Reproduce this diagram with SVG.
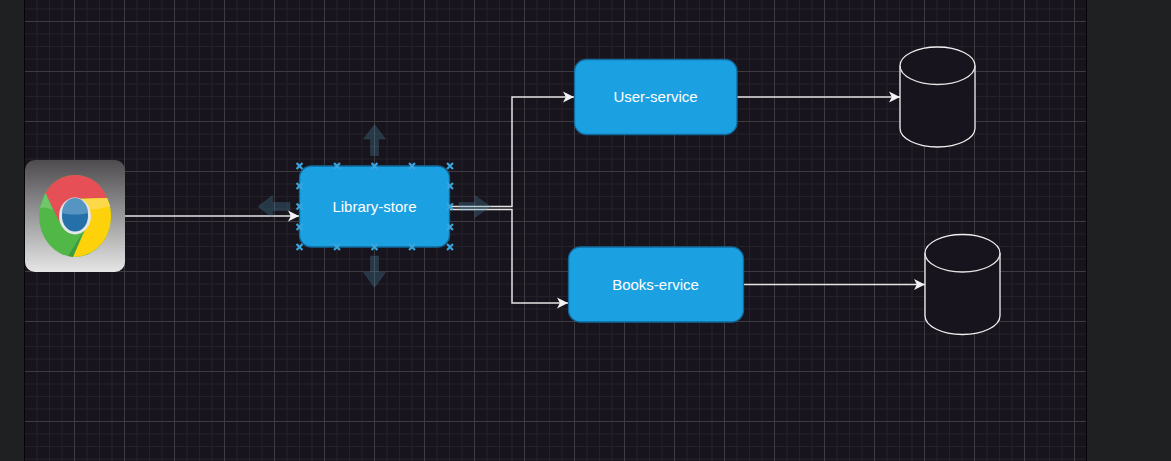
<svg xmlns="http://www.w3.org/2000/svg" width="1171" height="461" viewBox="0 0 1171 461">
<style>
.n{fill:#1ba1e2;stroke:#116a9c;stroke-width:1.3}
.t{font-family:"Liberation Sans",Arial,sans-serif;font-size:15px;fill:#fff;text-anchor:middle}
.c{fill:none;stroke:#e4e4e4;stroke-width:1.5}
.cy{fill:#18141d;stroke:#f0f0f0;stroke-width:1.3}
.h{fill:#4a93b4;fill-opacity:.28;stroke:#5a7a8c;stroke-opacity:.18}
.x{stroke:#3aa5dc;stroke-width:2.2;fill:none;stroke-linecap:square}
</style>
<defs>
<pattern id="grid" x="24" y="21" width="50" height="50" patternUnits="userSpaceOnUse">
<path d="M13 0V50M25.500 0V50M38 0V50M0 13H50M0 25.500H50M0 38H50" fill="none" stroke="#242128" stroke-width="1"/>
<path d="M0.500 0V50M0 0.500H50" fill="none" stroke="#3d3a42" stroke-width="1"/>
</pattern>
<marker id="a" markerUnits="userSpaceOnUse" markerWidth="12" markerHeight="12" refX="11" refY="6" orient="auto">
<path d="M0 0.500L11 6L0 11.500L2.800 6Z" fill="#f2f2f2"/>
</marker>
<linearGradient id="g" x1="0" y1="0" x2="0" y2="1">
<stop offset="0" stop-color="#4d4b4e"/><stop offset="1" stop-color="#e6e6e6"/>
</linearGradient>
<path id="k" d="M-2.200 -2.200L2.200 2.200M-2.200 2.200L2.200 -2.200"/>
</defs>
<rect width="1171" height="461" fill="#1e2021"/>
<rect x="24.500" y="0" width="1062" height="461" fill="#18141d"/>
<rect x="24.500" y="0" width="1062" height="461" fill="url(#grid)"/>
<path d="M24.500 0V461M1086.500 0V461" stroke="#050505" stroke-width="1"/>

<g id="connectors">
<path class="c" d="M125 216H299" marker-end="url(#a)"/>
<path class="c" d="M450 206.500H512V97H574" marker-end="url(#a)"/>
<path class="c" d="M450 209.500H512V303H568" marker-end="url(#a)"/>
<path class="c" d="M737 97H900" marker-end="url(#a)"/>
<path class="c" d="M744 284.500H925" marker-end="url(#a)"/>
</g>

<g id="chrome">
<rect x="25" y="160" width="100" height="112" rx="10" fill="url(#g)"/>
<ellipse cx="75" cy="216" rx="36" ry="41" fill="#51b848"/>
<path d="M45.500 193C52 181 63 175 75 175C90 175 102 184 107 198L75 199L59 221Z" fill="#e64f55"/>
<path d="M107 198C110 204 111 210 111 216C111 239 95 257 73 257L85 230L75 199Z" fill="#fdd20a"/>
<path d="M45.500 193L39.500 209C44 206 47 208 53 210Z" fill="#6fc66b"/>
<path d="M78 199L107 198L110 206C100 209 90 210 80 210Z" fill="#fdd94a"/>
<path d="M83 232L73 257L68 256Z" fill="#3f9a42"/>
<ellipse cx="75" cy="216" rx="16" ry="18.500" fill="#e3e7ea"/>
<ellipse cx="75" cy="216" rx="13" ry="15.500" fill="#2670a9"/>
<path d="M62 213A13 15 0 0 1 88 213C80 215 70 215 62 213Z" fill="#5694c2"/>
</g>

<g id="hover-arrows">
<path class="h" d="M374.500 124.500L385.500 139H378.500V155.500H370.500V139H363.500Z"/>
<path class="h" d="M374.500 287.500L385.500 272.500H378.500V256H370.500V272.500H363.500Z"/>
<path class="h" d="M258 206.500L272.500 195.500V202.500H290V210.500H272.500V217.500Z"/>
<path class="h" d="M490.500 206.500L475 195.500V202.500H459V210.500H475V217.500Z"/>
</g>

<g id="library-store">
<rect class="n" x="299.500" y="166" width="150" height="81" rx="12"/>
<text class="t" x="374.500" y="211.500">Library-store</text>
</g>

<g id="selection-handles" class="x">
<use href="#k" x="299.500" y="166"/><use href="#k" x="337" y="166"/><use href="#k" x="374.500" y="166"/><use href="#k" x="412" y="166"/><use href="#k" x="450" y="166"/>
<use href="#k" x="299.500" y="186"/><use href="#k" x="450" y="186"/>
<use href="#k" x="299.500" y="206.500"/><use href="#k" x="450" y="206.500"/>
<use href="#k" x="299.500" y="227"/><use href="#k" x="450" y="227"/>
<use href="#k" x="299.500" y="247"/><use href="#k" x="337" y="247"/><use href="#k" x="374.500" y="247"/><use href="#k" x="412" y="247"/><use href="#k" x="450" y="247"/>
</g>

<g id="user-service">
<rect class="n" x="574.500" y="59.500" width="162.500" height="75" rx="12"/>
<text class="t" x="655.500" y="102">User-service</text>
</g>
<g id="books-service">
<rect class="n" x="568.500" y="247" width="175" height="75" rx="12"/>
<text class="t" x="655.500" y="290">Books-ervice</text>
</g>
<g id="db-user">
<path class="cy" d="M900 65.750C900 55.400 916.800 47 937.500 47S975 55.400 975 65.750V128.250C975 138.600 958.200 147 937.500 147S900 138.600 900 128.250Z"/>
<path class="c" style="stroke-width:1.300" d="M900 65.750C900 76.100 916.800 84.500 937.500 84.500S975 76.100 975 65.750"/>
</g>
<g id="db-books">
<path class="cy" d="M925 253.250C925 242.900 941.800 234.500 962.500 234.500S1000 242.900 1000 253.250V315.750C1000 326.100 983.200 334.500 962.500 334.500S925 326.100 925 315.750Z"/>
<path class="c" style="stroke-width:1.300" d="M925 253.250C925 263.600 941.800 272 962.500 272S1000 263.600 1000 253.250"/>
</g>
</svg>
